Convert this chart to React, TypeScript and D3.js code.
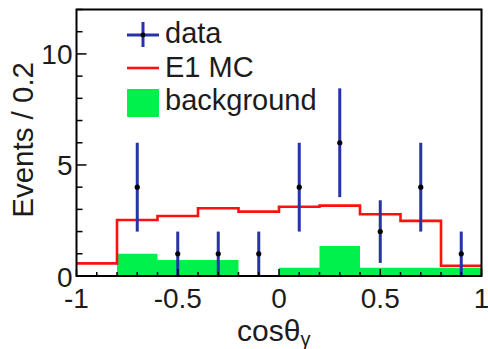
import React from "react";
import * as d3 from "d3";

// Histogram binning in cos(theta_gamma): 10 bins of width 0.2
const binEdges = [-1, -0.8, -0.6, -0.4, -0.2, 0, 0.2, 0.4, 0.6, 0.8, 1];
const binCentres = [-0.9, -0.7, -0.5, -0.3, -0.1, 0.1, 0.3, 0.5, 0.7, 0.9];

// E1 Monte Carlo expectation per bin
const mcCounts = [0.57, 2.52, 2.7, 3.05, 2.9, 3.12, 3.17, 2.78, 2.48, 0.46];
// Estimated background per bin
const bkgCounts = [0, 1.0, 0.72, 0.72, 0, 0.37, 1.35, 0.37, 0.37, 0.37];
// Observed events and their statistical errors
const dataCounts = [0, 4, 1, 1, 1, 4, 6, 2, 4, 1];
const dataErrors = [0, 2, 1, 1, 1, 2, 2.45, 1.41, 2, 1];

const xTicks = [-1, -0.5, 0, 0.5, 1];
const xTickLabels = ["-1", "-0.5", "0", "0.5", "1"];
const yTicks = [0, 5, 10];
const yTickLabels = ["0", "5", "10"];

const W = 488;
const H = 349;
const L = 76.5;
const R = 481.5;
const T = 9.5;
const B = 276;

const FONT = "'Liberation Sans', Arial, Helvetica, sans-serif";
const TEXT = "#1c1c1c";
const BLUE = "#2532a8";
const RED = "#ff1010";
const GREEN = "#00f04c";

export default function App() {
  const x = d3.scaleLinear().domain([-1, 1]).range([L, R]);
  const y = d3.scaleLinear().domain([0, 12]).range([B, T]);

  const stepPts = (vals: number[]) =>
    binEdges.map((e, i) => [e, vals[Math.min(i, vals.length - 1)]] as [number, number]);

  const mcLine = d3
    .line<[number, number]>()
    .x((d) => x(d[0]))
    .y((d) => y(d[1]))
    .curve(d3.curveStepAfter)(stepPts(mcCounts));

  const bkgArea = d3
    .area<[number, number]>()
    .x((d) => x(d[0]))
    .y0(y(0))
    .y1((d) => y(d[1]))
    .curve(d3.curveStepAfter)(stepPts(bkgCounts));

  const xMinor = d3.range(-10, 11).map((i) => i / 10);
  const yMinor = d3.range(0, 13);

  return (
    <svg
      width={W}
      height={H}
      style={{ position: "absolute", left: 0, top: 0, background: "#fff" }}
      fontFamily={FONT}
    >
      <rect x={0} y={0} width={W} height={H} fill="#fff" />

      {/* background histogram */}
      <path d={bkgArea ?? ""} fill={GREEN} />

      {/* MC expectation */}
      <path d={mcLine ?? ""} fill="none" stroke={RED} strokeWidth={2.6} />

      {/* data points with error bars */}
      {binCentres.map((c, i) =>
        dataCounts[i] > 0 ? (
          <g key={i}>
            <line
              x1={x(c)}
              x2={x(c)}
              y1={y(dataCounts[i] - dataErrors[i])}
              y2={y(dataCounts[i] + dataErrors[i])}
              stroke={BLUE}
              strokeWidth={3}
            />
            <circle cx={x(c)} cy={y(dataCounts[i])} r={2.6} fill="#000" />
          </g>
        ) : null
      )}

      {/* axis ticks */}
      {xMinor.map((t, i) => {
        const major = Math.abs(t * 2 - Math.round(t * 2)) < 1e-6;
        return (
          <line
            key={"xm" + i}
            x1={x(t)}
            x2={x(t)}
            y1={B}
            y2={B - (major ? 7 : 4)}
            stroke="#000"
            strokeWidth={1.5}
          />
        );
      })}
      {yMinor.map((t, i) => {
        const major = t % 5 === 0;
        return (
          <line
            key={"ym" + i}
            x1={L}
            x2={L + (major ? 10 : 6)}
            y1={y(t)}
            y2={y(t)}
            stroke="#000"
            strokeWidth={1.5}
          />
        );
      })}

      {/* frame */}
      <rect x={L} y={T} width={R - L} height={B - T} fill="none" stroke="#000" strokeWidth={2} />

      {/* tick labels */}
      {xTicks.map((t, i) => (
        <text
          key={"xl" + i}
          x={x(t)}
          y={307.5}
          textAnchor="middle"
          fontSize={28}
          fill={TEXT}
        >
          {xTickLabels[i]}
        </text>
      ))}
      {yTicks.map((t, i) => (
        <text
          key={"yl" + i}
          x={72.5}
          y={y(t) + 10.5}
          textAnchor="end"
          fontSize={28}
          fill={TEXT}
        >
          {yTickLabels[i]}
        </text>
      ))}

      {/* axis titles */}
      <text x={237} y={341} fontSize={30} fill={TEXT}>
        cosθ
        <tspan fontSize={20} dy={5}>
          γ
        </tspan>
      </text>
      <text
        transform="translate(33,62) rotate(-90)"
        textAnchor="end"
        fontSize={29.5}
        fill={TEXT}
      >
        Events / 0.2
      </text>

      {/* legend */}
      <g>
        <line x1={127} x2={159} y1={35} y2={35} stroke={BLUE} strokeWidth={3} />
        <line x1={143} x2={143} y1={22} y2={47} stroke={BLUE} strokeWidth={3} />
        <circle cx={143} cy={35} r={2.4} fill="#000" />
        <text x={165} y={43} fontSize={29} fill={TEXT}>
          data
        </text>

        <line x1={127} x2={159} y1={68} y2={68} stroke={RED} strokeWidth={2.6} />
        <text x={165} y={77} fontSize={29} fill={TEXT}>
          E1 MC
        </text>

        <rect x={127} y={89} width={32} height={28} fill={GREEN} rx={1} />
        <text x={165} y={110} fontSize={29} fill={TEXT}>
          background
        </text>
      </g>
    </svg>
  );
}
